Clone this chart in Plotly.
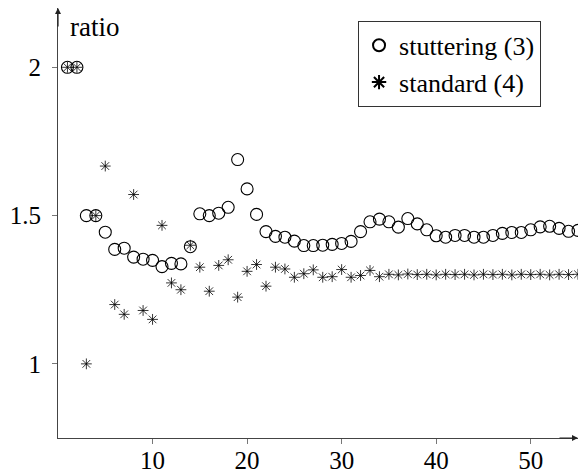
import plotly.graph_objects as go

# ---- data ----
n = list(range(1, 56))

stuttering = [2.0, 2.0, 1.5, 1.5, 1.444, 1.386, 1.39, 1.36, 1.353, 1.349,
              1.328, 1.339, 1.337, 1.395, 1.506, 1.5, 1.508, 1.528, 1.689, 1.59,
              1.504, 1.446, 1.43, 1.427, 1.414, 1.399, 1.399, 1.4, 1.403, 1.406,
              1.413, 1.446, 1.479, 1.488, 1.479, 1.461, 1.49, 1.472, 1.452, 1.432,
              1.427, 1.433, 1.433, 1.427, 1.427, 1.433, 1.44, 1.443, 1.443, 1.452,
              1.462, 1.464, 1.457, 1.447, 1.45]

standard = [2.0, 2.0, 1.0, 1.5, 1.667, 1.2, 1.167, 1.571, 1.18, 1.15,
            1.467, 1.273, 1.25, 1.4, 1.326, 1.245, 1.332, 1.351, 1.225, 1.312,
            1.335, 1.262, 1.326, 1.32, 1.292, 1.304, 1.317, 1.292, 1.294, 1.318,
            1.292, 1.298, 1.315, 1.294, 1.302, 1.3, 1.303, 1.301, 1.302, 1.3,
            1.302, 1.301, 1.302, 1.3, 1.302, 1.301, 1.302, 1.3, 1.302, 1.301,
            1.302, 1.3, 1.302, 1.301, 1.302]

x_ticks = [10, 20, 30, 40, 50]
y_ticks = [1, 1.5, 2]
y_tick_text = ["1", "1.5", "2"]
x_range = [0, 55]
y_range = [0.75, 2.2]

FONT = "Liberation Serif, DejaVu Serif, serif"
FS = 25
AXIS_COL = "#444444"
TICK_COL = "#777777"

fig = go.Figure()
fig.add_trace(go.Scatter(
    x=n, y=stuttering, mode="markers", name="stuttering (3)",
    marker=dict(symbol="circle-open", size=12, color="black",
                line=dict(color="black", width=1.1)),
))
fig.add_trace(go.Scatter(
    x=n, y=standard, mode="markers", name="standard (4)",
    marker=dict(symbol="asterisk-open", size=9, color="black",
                line=dict(color="black", width=0.8)),
))

fig.update_layout(
    width=579, height=474,
    margin=dict(l=58, r=1, t=8, b=36, autoexpand=False),
    paper_bgcolor="white", plot_bgcolor="white",
    font=dict(family=FONT, size=FS, color="black"),
    showlegend=True,
    legend=dict(x=0.577, y=0.97, xanchor="left", yanchor="top",
                bordercolor="#333333", borderwidth=1, bgcolor="white",
                font=dict(family=FONT, size=26), itemsizing="constant",
                tracegroupgap=0),
    xaxis=dict(range=x_range, tickvals=x_ticks, showgrid=False, zeroline=False,
               automargin=False,
               showline=True, linecolor=AXIS_COL, linewidth=1.2,
               ticks="outside", ticklen=5, tickwidth=0.8, tickcolor=TICK_COL,
               ticklabelstandoff=-5, tickfont=dict(family=FONT, size=FS)),
    yaxis=dict(range=y_range, tickvals=y_ticks, ticktext=y_tick_text,
               showgrid=False, zeroline=False, automargin=False,
               showline=True, linecolor=AXIS_COL, linewidth=1.2,
               ticks="outside", ticklen=5, tickwidth=0.8, tickcolor=TICK_COL,
               ticklabelstandoff=6, tickfont=dict(family=FONT, size=FS)),
    xaxis2=dict(range=x_range, tickvals=x_ticks, overlaying="x", anchor="y",
                side="bottom", showgrid=False, zeroline=False, showline=False,
                automargin=False,
                ticks="inside", ticklen=5, tickwidth=0.8, tickcolor=TICK_COL,
                showticklabels=False),
    yaxis2=dict(range=y_range, tickvals=y_ticks, overlaying="y", anchor="x",
                side="left", showgrid=False, zeroline=False, showline=False,
                automargin=False,
                ticks="inside", ticklen=5, tickwidth=0.8, tickcolor=TICK_COL,
                showticklabels=False),
)

# axis arrows and the y-axis label
fig.add_annotation(x=1, y=0, xref="paper", yref="paper", ax=-20, ay=0,
                   axref="pixel", ayref="pixel", text="", showarrow=True,
                   arrowhead=2, arrowsize=1, arrowwidth=1.2, arrowcolor="#222222")
fig.add_annotation(x=0, y=1, xref="paper", yref="paper", ax=0, ay=20,
                   axref="pixel", ayref="pixel", text="", showarrow=True,
                   arrowhead=2, arrowsize=1, arrowwidth=1.2, arrowcolor="#222222")
fig.add_annotation(x=0.019, y=0.955, xref="paper", yref="paper",
                   xanchor="left", yanchor="middle", text="ratio",
                   showarrow=False, font=dict(family=FONT, size=27))

fig.write_html("out.html",
               config={"displayModeBar": False},
               post_script="document.body.style.margin='0';"
                           "document.body.style.overflow='hidden';")
